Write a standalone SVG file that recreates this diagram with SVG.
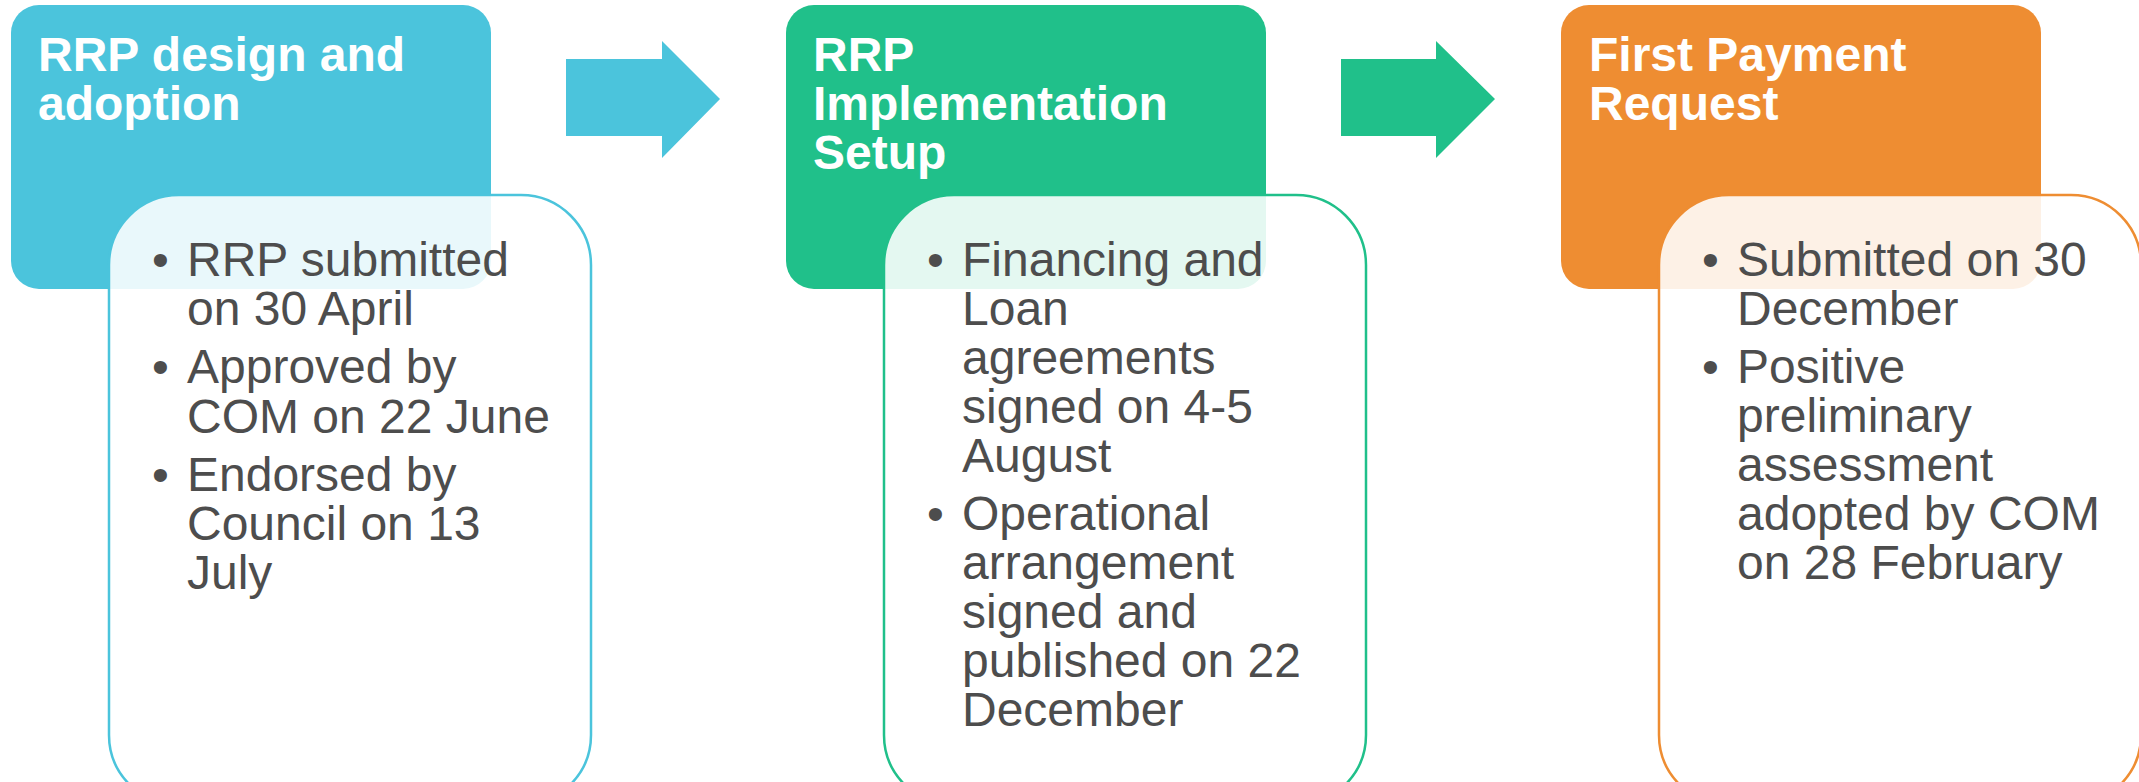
<svg xmlns="http://www.w3.org/2000/svg" width="2139" height="782" viewBox="0 0 2139 782">
<style>
.title{font-family:"Liberation Sans",Arial,sans-serif;font-weight:bold;font-size:48px;fill:#ffffff}
.body{font-family:"Liberation Sans",Arial,sans-serif;font-size:48px;fill:#4d4d4d}
.inner{fill:#ffffff;fill-opacity:0.88;stroke-width:2.5}
</style>
<rect width="2139" height="782" fill="#ffffff"/>
<g id="connectors">
<polygon points="566,59 662,59 662,41 720,99 662,158 662,136 566,136" fill="#4bc4dc"/>
<polygon points="1341,59 1436,59 1436,41 1495,99 1436,158 1436,136 1341,136" fill="#20c08a"/>
</g>
<g id="node1">
<rect x="11" y="5" width="480" height="284" rx="28" fill="#4bc4dc"/>
<text class="title"><tspan x="38" y="71">RRP design and</tspan><tspan x="38" y="120">adoption</tspan></text>
<rect class="inner" x="109" y="195" width="482" height="610" rx="70" stroke="#4bc4dc"/>
<text class="body"><tspan x="152" y="276">•</tspan><tspan x="187" y="276">RRP submitted</tspan><tspan x="187" y="325">on 30 April</tspan><tspan x="152" y="383">•</tspan><tspan x="187" y="383">Approved by</tspan><tspan x="187" y="433">COM on 22 June</tspan><tspan x="152" y="491">•</tspan><tspan x="187" y="491">Endorsed by</tspan><tspan x="187" y="540">Council on 13</tspan><tspan x="187" y="589">July</tspan></text>
</g>
<g id="node2">
<rect x="786" y="5" width="480" height="284" rx="28" fill="#20c08a"/>
<text class="title"><tspan x="813" y="71">RRP</tspan><tspan x="813" y="120">Implementation</tspan><tspan x="813" y="169">Setup</tspan></text>
<rect class="inner" x="884" y="195" width="482" height="610" rx="70" stroke="#20c08a"/>
<text class="body"><tspan x="927" y="276">•</tspan><tspan x="962" y="276">Financing and</tspan><tspan x="962" y="325">Loan</tspan><tspan x="962" y="374">agreements</tspan><tspan x="962" y="423">signed on 4-5</tspan><tspan x="962" y="472">August</tspan><tspan x="927" y="530">•</tspan><tspan x="962" y="530">Operational</tspan><tspan x="962" y="579">arrangement</tspan><tspan x="962" y="628">signed and</tspan><tspan x="962" y="677">published on 22</tspan><tspan x="962" y="726">December</tspan></text>
</g>
<g id="node3">
<rect x="1561" y="5" width="480" height="284" rx="28" fill="#ee8d32"/>
<text class="title"><tspan x="1589" y="71">First Payment</tspan><tspan x="1589" y="120">Request</tspan></text>
<rect class="inner" x="1659" y="195" width="482" height="610" rx="70" stroke="#ee8d32"/>
<text class="body"><tspan x="1702" y="276">•</tspan><tspan x="1737" y="276">Submitted on 30</tspan><tspan x="1737" y="325">December</tspan><tspan x="1702" y="383">•</tspan><tspan x="1737" y="383">Positive</tspan><tspan x="1737" y="432">preliminary</tspan><tspan x="1737" y="481">assessment</tspan><tspan x="1737" y="530">adopted by COM</tspan><tspan x="1737" y="579">on 28 February</tspan></text>
</g>
</svg>
